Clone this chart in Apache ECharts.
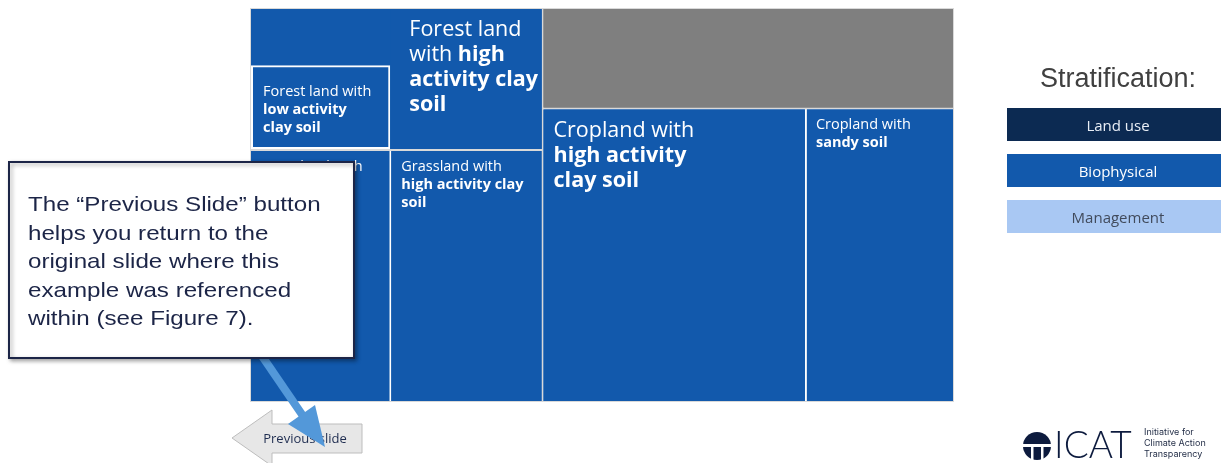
<!DOCTYPE html>
<html>
<head>
<meta charset="utf-8">
<script src="https://cdn.jsdelivr.net/npm/echarts@6/dist/echarts.min.js"></script>
<style>
  html, body { margin: 0; padding: 0; background: #ffffff; }
  #chart { width: 1221px; height: 463px; }
</style>
</head>
<body>
<div id="chart"></div>
<script>
// land-use level, kept in this order (the layout follows data order)
const landUses = ["Forest land", "Grassland", "Other land", "Cropland"]
const otherLandValue = 413

// biophysical cells: which land use they belong to, name, relative area
const cellParent = [0, 0, 0, 1, 1, 3, 3]
const cellNames = [
  "Forest land",
  "Forest land with low activity clay soil",
  "Forest land with high activity clay soil",
  "Grassland with low activity clay soil",
  "Grassland with high activity clay soil",
  "Cropland with high activity clay soil",
  "Cropland with sandy soil",
]
const cellValues = [80, 119, 216, 353, 383, 772, 434]
const cellLabels = [
  "",
  "{s|Forest land with}\n{sb|low activity}\n{sb|clay soil}",
  "{L|Forest land}\n{L|with }{Lb|high}\n{Lb|activity clay}\n{Lb|soil}",
  "{s|Grassland with}\n{sb|low activity}\n{sb|clay soil}",
  "{s|Grassland with}\n{sb|high activity clay}\n{sb|soil}",
  "{L|Cropland with}\n{Lb|high activity}\n{Lb|clay soil}",
  "{s|Cropland with}\n{sb|sandy soil}",
]

const legendItems = ["Land use", "Biophysical", "Management"]

// styles
const BLUE = "#1259ac"
const GRAY = "#7f7f7f"
const FONT = "Open Sans"
const rich = {
  s: { fontFamily: FONT, fontSize: 14.5, lineHeight: 18, color: "#fff" },
  sb: { fontFamily: FONT, fontSize: 14.5, lineHeight: 18, color: "#fff", fontWeight: "bold" },
  L: { fontFamily: FONT, fontSize: 21.5, lineHeight: 25, color: "#fff" },
  Lb: { fontFamily: FONT, fontSize: 21.5, lineHeight: 25, color: "#fff", fontWeight: "bold" },
}
const cellBorder = [0, 2, 0, 0, 0, 0, 0]
const cellPad = [
  [0, 0, 0, 0],
  [16, 0, 0, 10],
  [8, 0, 0, 19],
  [7, 0, 0, 11],
  [7, 0, 0, 10],
  [9, 0, 0, 10],
  [6, 0, 0, 9],
]
const landGap = [0, 2, 2, 2]
const landBg = [BLUE, "#ffffff", "#ffffff", "#ffffff"]
const legendColors = ["#0c2a52", "#1259ac", "#a9c8f3"]
const legendText = ["#e9eef6", "#ffffff", "#414b5c"]

const buildData = () =>
  landUses.map((land, li) => {
    const kids = []
    cellNames.forEach((name, i) => {
      if (cellParent[i] !== li) return
      kids.push({
        name: name,
        value: cellValues[i],
        itemStyle: {
          color: BLUE,
          borderColor: cellBorder[i] ? "#ffffff" : BLUE,
          borderWidth: cellBorder[i],
        },
        label: {
          show: cellLabels[i] !== "",
          position: "insideTopLeft",
          padding: cellPad[i],
          formatter: cellLabels[i],
          rich: rich,
        },
      })
    })
    if (!kids.length) {
      return {
        name: land,
        value: otherLandValue,
        itemStyle: { color: GRAY, borderColor: GRAY, borderWidth: 0 },
        label: { show: false },
      }
    }
    return {
      name: land,
      children: kids,
      itemStyle: { borderColor: landBg[li], borderWidth: 0, gapWidth: landGap[li] },
    }
  })

const chart = echarts.init(document.getElementById("chart"))

const graphics = []

// legend on the right
graphics.push({
  type: "text",
  x: 1118,
  y: 80,
  style: {
    text: "Stratification:",
    font: '27px "Liberation Sans", Arial, sans-serif',
    fill: "#404040",
    align: "center",
    verticalAlign: "middle",
  },
})
legendItems.forEach((item, i) => {
  const top = 108 + i * 46
  graphics.push({
    type: "rect",
    shape: { x: 1007, y: top, width: 214, height: 33 },
    style: { fill: legendColors[i] },
  })
  graphics.push({
    type: "text",
    x: 1118,
    y: top + 18.5,
    style: {
      text: item,
      font: '15px "Open Sans", sans-serif',
      fill: legendText[i],
      align: "center",
      verticalAlign: "middle",
    },
  })
})

// previous slide button
graphics.push({
  type: "polygon",
  z: 50,
  shape: {
    points: [[232, 438], [272, 410], [272, 424], [362, 424], [362, 453], [272, 453], [272, 466]],
  },
  style: { fill: "#e7e7e7", stroke: "#bdbdbd", lineWidth: 1 },
})
graphics.push({
  type: "text",
  z: 51,
  x: 305,
  y: 439,
  style: {
    text: "Previous slide",
    font: '13px "Open Sans", sans-serif',
    fill: "#1f2d50",
    align: "center",
    verticalAlign: "middle",
  },
})

// pointer arrow from the callout
graphics.push({
  type: "line",
  z: 60,
  shape: { x1: 262, y1: 356, x2: 303, y2: 416 },
  style: { stroke: "#5398d9", lineWidth: 8 },
})
graphics.push({
  type: "polygon",
  z: 60,
  shape: { points: [[325, 447], [288, 424], [315, 405]] },
  style: { fill: "#5398d9" },
})

// callout box
graphics.push({
  type: "rect",
  z: 70,
  shape: { x: 9, y: 162, width: 345, height: 196 },
  style: {
    fill: "#ffffff",
    stroke: "#1c2547",
    lineWidth: 2,
    shadowBlur: 4,
    shadowColor: "rgba(0,0,0,0.35)",
    shadowOffsetX: 2,
    shadowOffsetY: 2,
  },
})
graphics.push({
  type: "text",
  z: 71,
  x: 28,
  y: 191,
  scaleX: 1.15,
  style: {
    text: "The \u201cPrevious Slide\u201d button\nhelps you return to the\noriginal slide where this\nexample was referenced\nwithin (see Figure 7).",
    font: '21px "Liberation Sans", Arial, sans-serif',
    fill: "#1c2547",
    lineHeight: 28.6,
    verticalAlign: "top",
  },
})

// ICAT logo
graphics.push({
  type: "circle",
  shape: { cx: 1037, cy: 446, r: 14 },
  style: { fill: "#0d1b3e" },
})
graphics.push({
  type: "rect",
  shape: { x: 1021, y: 444, width: 32, height: 3 },
  style: { fill: "#ffffff" },
})
graphics.push({
  type: "rect",
  shape: { x: 1031, y: 447, width: 2.5, height: 14 },
  style: { fill: "#ffffff" },
})
graphics.push({
  type: "rect",
  shape: { x: 1041, y: 447, width: 2.5, height: 14 },
  style: { fill: "#ffffff" },
})
graphics.push({
  type: "text",
  x: 1054,
  y: 446,
  style: {
    text: "ICAT",
    font: '300 37px Lato, "Open Sans", sans-serif',
    fill: "#0d1b3e",
    verticalAlign: "middle",
  },
})
graphics.push({
  type: "text",
  x: 1144,
  y: 427,
  style: {
    text: "Initiative for\nClimate Action\nTransparency",
    font: '9px Inter, "Open Sans", sans-serif',
    fill: "#1f2a44",
    lineHeight: 11,
    verticalAlign: "top",
  },
})

chart.setOption({
  animation: false,
  graphic: { elements: graphics },
  series: [
    {
      type: "treemap",
      left: 250,
      top: 8,
      width: 704,
      height: 394,
      roam: false,
      nodeClick: false,
      sort: false,
      squareRatio: 1.1,
      breadcrumb: { show: false },
      upperLabel: { show: false },
      levels: [
        { itemStyle: { borderColor: "#d9d9d9", borderWidth: 1, gapWidth: 2 } },
        { itemStyle: { borderColor: "#ffffff", borderWidth: 0, gapWidth: 2 } },
        { itemStyle: { borderColor: "#ffffff", borderWidth: 0, gapWidth: 0 } },
      ],
      data: buildData(),
    },
  ],
})
</script>
</body>
</html>
